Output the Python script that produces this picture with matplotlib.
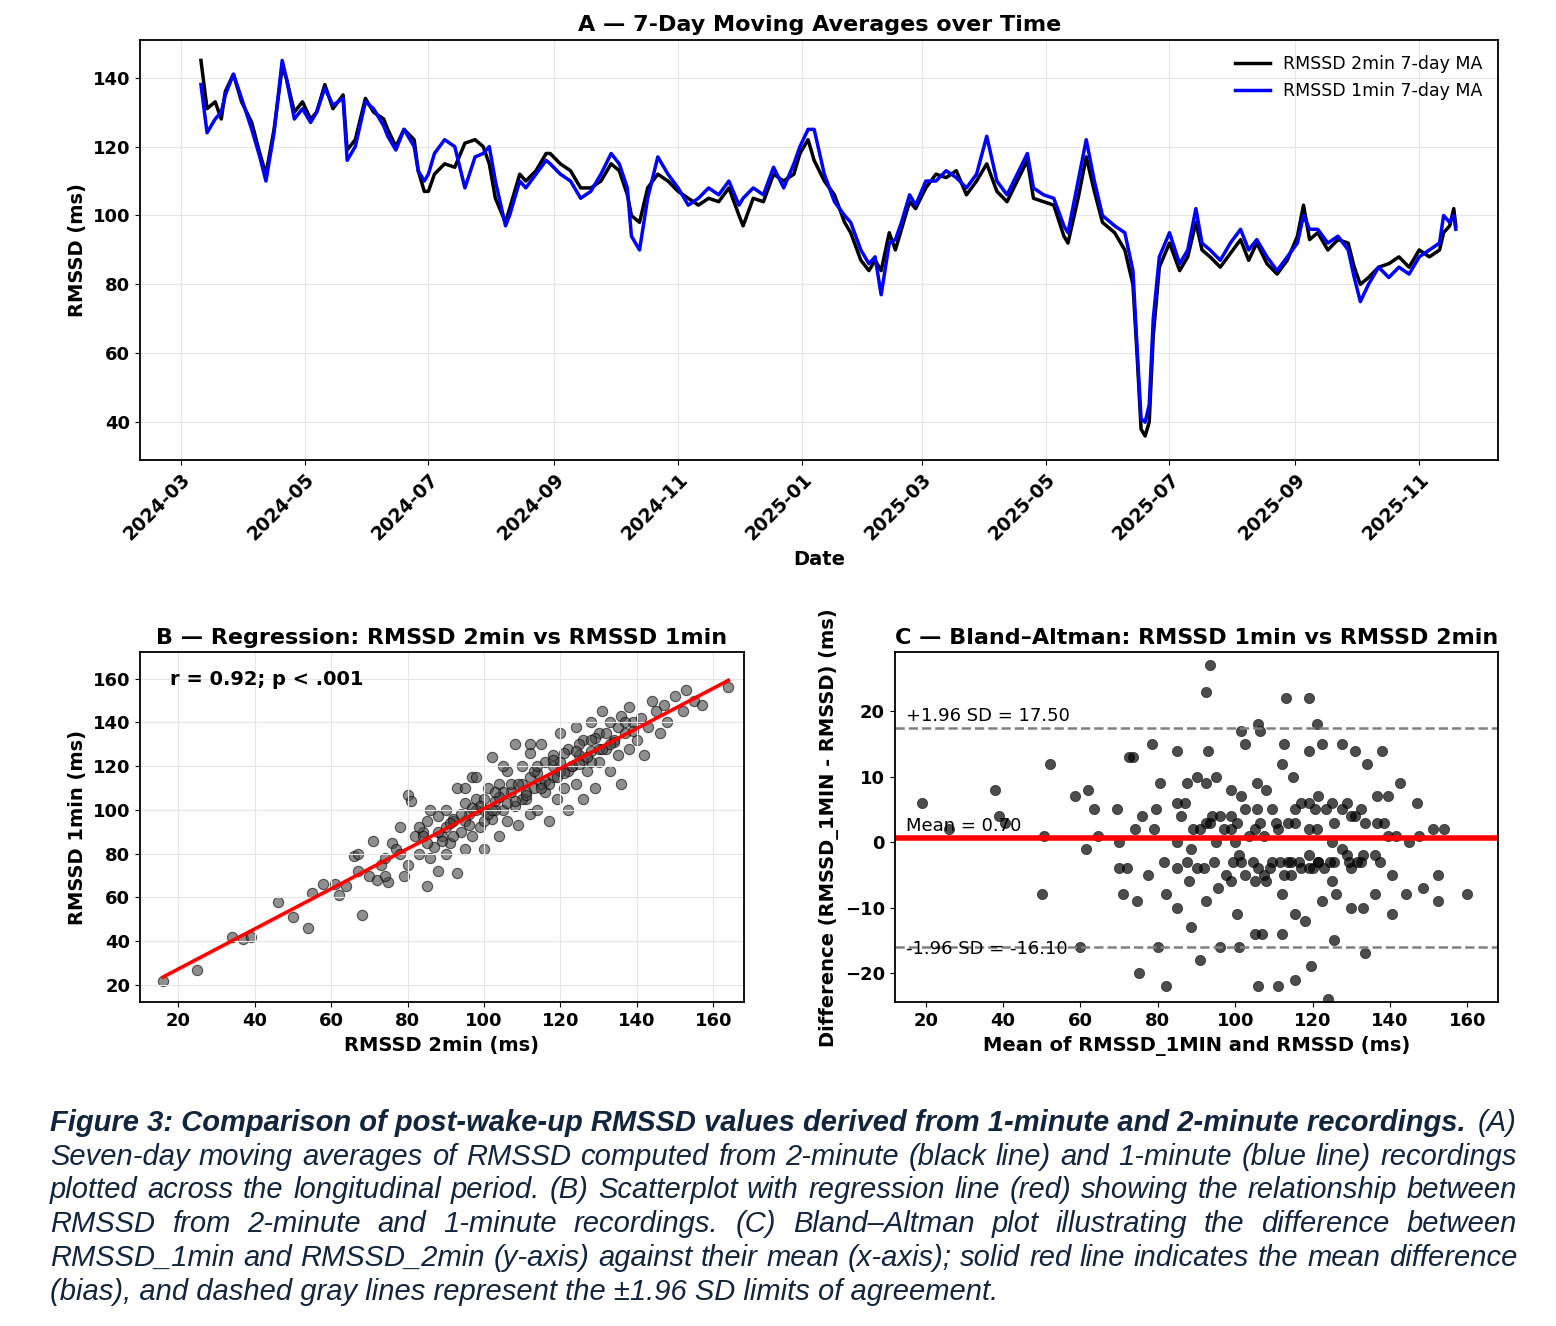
import numpy as np
import pandas as pd
import matplotlib
matplotlib.use("Agg")
import matplotlib.pyplot as plt
import matplotlib.dates as mdates

# --- panel A: 7-day moving averages (days after 2024-03-01) ---
day_offsets = [10, 13, 17, 20, 22, 26, 30, 35, 39, 42, 46, 50, 52, 56, 60, 64, 67, 71, 75, 80,
               82, 86, 91, 95, 100, 102, 106, 110, 115, 117, 120, 122, 125, 130, 135, 140, 145, 149, 152, 155,
               160, 162, 167, 170, 175, 180, 182, 187, 192, 197, 202, 207, 212, 216, 220, 222, 226, 230, 235, 240,
               245, 250, 255, 260, 265, 270, 275, 277, 282, 287, 292, 297, 302, 305, 309, 312, 317, 322, 327, 330,
               335, 339, 342, 345, 349, 352, 355, 359, 362, 367, 372, 377, 382, 387, 392, 397, 402, 407, 412, 417,
               420, 425, 430, 435, 437, 442, 446, 450, 454, 460, 465, 469, 471, 473, 475, 477, 479, 482, 487, 492,
               496, 500, 503, 507, 512, 517, 522, 526, 530, 535, 540, 545, 550, 553, 556, 560, 565, 570, 575, 578,
               581, 585, 590, 595, 600, 605, 610, 615, 620, 622, 625, 627, 628]
ma_2min = [145, 131, 133, 128, 136, 141, 133, 127, 118, 112, 125, 143, 140, 130, 133, 128, 130, 138, 131, 135,
           119, 122, 134, 130, 128, 125, 120, 125, 122, 113, 107, 107, 112, 115, 114, 121, 122, 120, 115, 105,
           98, 102, 112, 110, 113, 118, 118, 115, 113, 108, 108, 110, 115, 113, 106, 100, 98, 108, 112, 110,
           107, 105, 103, 105, 104, 108, 100, 97, 105, 104, 112, 110, 112, 118, 122, 116, 110, 106, 98, 95,
           87, 84, 87, 84, 95, 90, 96, 104, 102, 108, 112, 111, 113, 106, 110, 115, 107, 104, 110, 116,
           105, 104, 103, 94, 92, 105, 117, 107, 98, 95, 90, 80, 60, 38, 36, 40, 65, 85, 92, 84,
           88, 98, 90, 88, 85, 89, 93, 87, 92, 86, 83, 87, 94, 103, 93, 95, 90, 93, 92, 85,
           80, 82, 85, 86, 88, 85, 90, 88, 90, 95, 97, 102, 97]
ma_1min = [138, 124, 128, 130, 135, 141, 134, 125, 117, 110, 124, 145, 140, 128, 131, 127, 130, 137, 132, 134,
           116, 120, 133, 131, 126, 123, 119, 125, 120, 113, 110, 112, 118, 122, 120, 108, 117, 118, 120, 110,
           97, 100, 110, 108, 112, 116, 115, 112, 110, 105, 107, 112, 118, 115, 108, 94, 90, 105, 117, 112,
           108, 103, 105, 108, 106, 110, 103, 105, 108, 106, 114, 108, 115, 120, 125, 125, 112, 104, 100, 98,
           90, 86, 88, 77, 92, 93, 98, 106, 103, 110, 110, 113, 111, 108, 112, 123, 110, 106, 112, 118,
           108, 106, 105, 97, 95, 110, 122, 110, 100, 97, 95, 84, 62, 41, 40, 45, 70, 88, 95, 86,
           90, 102, 92, 90, 87, 92, 96, 90, 93, 88, 84, 88, 92, 100, 96, 96, 92, 94, 90, 82,
           75, 80, 85, 82, 85, 83, 88, 90, 92, 100, 98, 100, 96]

# --- panel B/C: paired recordings ---
rmssd_2min = [16, 25, 34, 37, 39, 46, 50, 54, 55, 58, 61, 62, 64, 66, 67, 67, 68, 70, 71, 72,
              73, 74, 75, 76, 77, 78, 79, 80, 80, 81, 82, 83, 84, 85, 85, 86, 87, 88, 88, 89,
              90, 90, 91, 92, 93, 93, 94, 95, 95, 96, 97, 97, 98, 99, 100, 100, 101, 102, 102, 103,
              104, 104, 105, 106, 106, 107, 108, 108, 109, 110, 110, 111, 112, 112, 113, 114, 114, 115, 116, 116,
              117, 118, 118, 119, 120, 120, 121, 122, 122, 123, 124, 124, 125, 126, 126, 127, 128, 128, 129, 130,
              130, 131, 132, 133, 133, 134, 135, 136, 136, 137, 138, 138, 139, 140, 141, 142, 143, 144, 145, 146,
              147, 148, 150, 152, 153, 155, 157, 164, 85, 88, 92, 95, 98, 100, 103, 105, 107, 110, 112, 115,
              118, 120, 122, 125, 128, 130, 132, 135, 98, 105, 112, 100, 95, 90, 86, 83, 78, 74,
              92, 96, 99, 101, 104, 106, 109, 111, 113, 116, 119, 121, 123, 126, 129, 131, 134, 137, 94, 102,
              108, 114, 117, 124, 127, 133, 139, 89, 97, 103, 111, 118, 121, 128, 84, 91, 115, 125]
rmssd_1min = [22, 27, 42, 41, 42, 58, 51, 46, 62, 66, 66, 61, 65, 79, 80, 72, 52, 70, 86, 68,
              75, 78, 67, 85, 82, 92, 70, 75, 107, 104, 88, 80, 90, 65, 95, 78, 83, 97, 72, 88,
              80, 100, 85, 95, 110, 71, 90, 82, 103, 98, 88, 115, 105, 92, 82, 100, 110, 96, 124, 104,
              88, 112, 100, 118, 95, 108, 130, 102, 93, 112, 120, 105, 98, 126, 110, 117, 100, 130, 108, 122,
              95, 115, 125, 105, 135, 118, 110, 100, 128, 120, 112, 138, 125, 105, 132, 118, 140, 127, 110, 122,
              135, 145, 128, 118, 140, 132, 125, 143, 112, 135, 128, 147, 140, 132, 142, 125, 138, 150, 145, 135,
              148, 140, 152, 145, 155, 150, 148, 156, 85, 90, 88, 95, 100, 105, 100, 108, 112, 105, 115, 112,
              120, 122, 118, 130, 122, 128, 135, 138, 115, 120, 130, 95, 110, 92, 100, 92, 80, 70,
              96, 93, 102, 98, 106, 103, 112, 108, 118, 113, 115, 126, 120, 123, 133, 128, 131, 140, 98, 100,
              104, 120, 112, 127, 124, 130, 136, 86, 101, 108, 107, 123, 117, 132, 88, 94, 110, 121]

ba_mean_diff = 0.70
ba_upper = 17.50
ba_lower = -16.10

caption_lines = [
    "Seven-day moving averages of RMSSD computed from 2-minute (black line) and 1-minute (blue line) recordings",
    "plotted across the longitudinal period. (B) Scatterplot with regression line (red) showing the relationship between",
    "RMSSD from 2-minute and 1-minute recordings. (C) Bland\u2013Altman plot illustrating the difference between",
    "RMSSD_1min and RMSSD_2min (y-axis) against their mean (x-axis); solid red line indicates the mean difference",
    "(bias), and dashed gray lines represent the \u00b11.96 SD limits of agreement.",
]

plt.rcParams['font.family'] = ['DejaVu Sans']
plt.rcParams['font.weight'] = 'bold'
plt.rcParams['axes.labelweight'] = 'bold'
plt.rcParams['axes.titleweight'] = 'bold'
plt.rcParams['xtick.labelsize'] = 13
plt.rcParams['ytick.labelsize'] = 13
plt.rcParams['axes.linewidth'] = 1.3

fig = plt.figure(figsize=(15.56, 13.26), dpi=100)
axA = fig.add_axes([0.090, 0.653, 0.873, 0.317])
axB = fig.add_axes([0.090, 0.244, 0.388, 0.264])
axC = fig.add_axes([0.575, 0.244, 0.388, 0.264])

dates = pd.Timestamp('2024-03-01') + pd.to_timedelta(day_offsets, unit='D')
axA.plot(dates, ma_2min, color='black', lw=2.5, label='RMSSD 2min 7-day MA')
axA.plot(dates, ma_1min, color='blue', lw=2.5, label='RMSSD 1min 7-day MA')
axA.set_ylim(29, 151)
axA.set_yticks([40, 60, 80, 100, 120, 140])
axA.set_xlim(pd.Timestamp('2024-02-10'), pd.Timestamp('2025-12-10'))
axA.xaxis.set_major_locator(mdates.MonthLocator(bymonth=[1, 3, 5, 7, 9, 11]))
axA.xaxis.set_major_formatter(mdates.DateFormatter('%Y-%m'))
plt.setp(axA.get_xticklabels(), rotation=45, ha='right', rotation_mode='anchor', fontsize=13.5)
axA.grid(True, color='#e6e6e6', lw=0.8)
axA.set_ylabel('RMSSD (ms)', fontsize=14)
axA.set_xlabel('Date', fontsize=14)
axA.set_title('A \u2014 7-Day Moving Averages over Time', fontsize=16)
axA.legend(loc='upper right', frameon=False, prop={'weight': 'normal', 'size': 12.5})

x = np.array(rmssd_2min, dtype=float)
y = np.array(rmssd_1min, dtype=float)
axB.scatter(x, y, s=55, color='#444444', alpha=0.6, edgecolors='black', linewidths=0.8)
slope, intercept = np.polyfit(x, y, 1)
xs = np.array([x.min(), x.max()])
axB.fill_between(xs, slope * xs + intercept - 1.2, slope * xs + intercept + 1.2, color='red', alpha=0.15, lw=0)
axB.plot(xs, slope * xs + intercept, color='red', lw=2.5)
axB.set_xlim(10, 168)
axB.set_ylim(12, 172)
axB.set_xticks(range(20, 161, 20))
axB.set_yticks(range(20, 161, 20))
axB.grid(True, color='#e6e6e6', lw=0.8)
axB.text(0.05, 0.95, 'r = 0.92; p < .001', transform=axB.transAxes, fontsize=14, va='top')
axB.set_xlabel('RMSSD 2min (ms)', fontsize=14)
axB.set_ylabel('RMSSD 1min (ms)', fontsize=14)
axB.set_title('B \u2014 Regression: RMSSD 2min vs RMSSD 1min', fontsize=16)

means = (x + y) / 2
diffs = y - x
axC.scatter(means, diffs, s=55, color='black', alpha=0.7, edgecolors='black', linewidths=0.5)
axC.axhline(ba_mean_diff, color='red', lw=4)
axC.axhline(ba_upper, color='gray', lw=1.8, ls='--')
axC.axhline(ba_lower, color='gray', lw=1.8, ls='--')
axC.set_xlim(12, 168)
axC.set_ylim(-24.5, 29)
axC.set_xticks(range(20, 161, 20))
axC.set_yticks([-20, -10, 0, 10, 20])
axC.text(15, ba_upper + 0.4, '+1.96 SD = %.2f' % ba_upper, fontsize=13, weight='normal', va='bottom')
axC.text(15, ba_mean_diff + 0.4, 'Mean = %.2f' % ba_mean_diff, fontsize=13, weight='normal', va='bottom')
axC.text(15, ba_lower - 0.3, '-1.96 SD = %.2f' % ba_lower, fontsize=13, weight='normal', va='center')
axC.set_xlabel('Mean of RMSSD_1MIN and RMSSD (ms)', fontsize=14)
axC.set_ylabel('Difference (RMSSD_1MIN - RMSSD) (ms)', fontsize=14)
axC.set_title('C \u2014 Bland\u2013Altman: RMSSD 1min vs RMSSD 2min', fontsize=16)

# caption, justified between x=50px and x=1517px
cap_color = '#13243d'
cap_font = ['Liberation Sans', 'DejaVu Sans']
cap_size = 21
W = fig.bbox.width
left_px, right_px = 50, 1517
fig.canvas.draw()
renderer = fig.canvas.get_renderer()


def ypos(i):
    return 1 - (1123 + 33.7 * i) / 1326


fig.text(left_px / W, ypos(0), 'Figure 3: Comparison of post-wake-up RMSSD values derived from 1-minute and 2-minute recordings.',
         fontsize=cap_size, style='italic', weight='bold', color=cap_color, family=cap_font, va='center')
fig.text(right_px / W, ypos(0), '(A)', fontsize=cap_size, style='italic', weight='normal',
         color=cap_color, family=cap_font, va='center', ha='right')
for i, line in enumerate(caption_lines):
    yy = ypos(i + 1)
    words = line.split(' ')
    if i == len(caption_lines) - 1:
        fig.text(left_px / W, yy, line, fontsize=cap_size, style='italic', weight='normal',
                 color=cap_color, family=cap_font, va='center')
        continue
    arts = [fig.text(0, yy, w, fontsize=cap_size, style='italic', weight='normal',
                     color=cap_color, family=cap_font, va='center') for w in words]
    widths = [a.get_window_extent(renderer).width for a in arts]
    gap = (right_px - left_px - sum(widths)) / (len(words) - 1)
    xp = left_px
    for a, w in zip(arts, widths):
        a.set_x(xp / W)
        xp += w + gap

fig.savefig('out.png', dpi=100)
